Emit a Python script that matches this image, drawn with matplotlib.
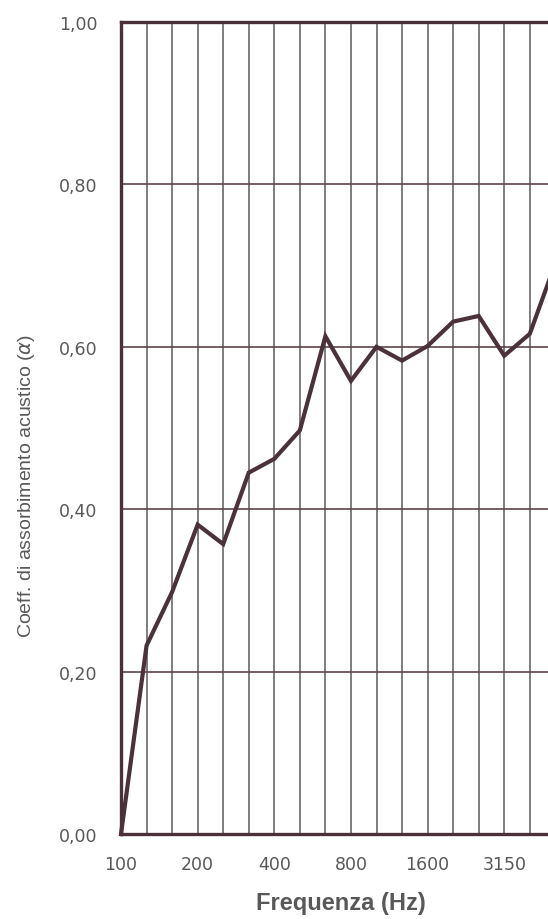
import matplotlib
matplotlib.use("Agg")
import matplotlib.pyplot as plt

# third-octave bands shown on the chart (100 Hz ... 5000 Hz)
bands = [100, 125, 160, 200, 250, 315, 400, 500, 630, 800,
         1000, 1250, 1600, 2000, 2500, 3150, 4000, 5000]
alpha = [0.00, 0.232, 0.298, 0.381, 0.357, 0.445, 0.462, 0.497, 0.613, 0.558,
         0.600, 0.583, 0.601, 0.631, 0.638, 0.589, 0.616, 0.703]
xtick_labels = ["100", "200", "400", "800", "1600", "3150"]
yticks = [0.0, 0.2, 0.4, 0.6, 0.8, 1.0]
ytick_labels = ["0,00", "0,20", "0,40", "0,60", "0,80", "1,00"]

LINE = "#4b3139"
FRAME = "#4a3038"
GRID = "#5e5a5c"
TEXT = "#585858"

plt.rcParams["font.family"] = ["Liberation Sans", "DejaVu Sans"]

fig = plt.figure(figsize=(5.48, 9.2), dpi=100)
# axes run past the right edge of the picture, as in the cropped original
ax = fig.add_axes([121 / 548, 85 / 920, 21 * 25.55 / 548, 812 / 920])

x = list(range(len(bands)))
ax.plot(x, alpha, color=LINE, linewidth=3.0, solid_joinstyle="miter",
        zorder=3, clip_on=False)

ax.set_xlim(0, 21)
ax.set_ylim(0, 1.0)

for i in range(1, 21):
    ax.axvline(i, color=GRID, linewidth=1.1, zorder=1)
for v in yticks[1:-1]:
    ax.axhline(v, color="#5a4448", linewidth=1.2, zorder=1)

ax.set_xticks([bands.index(int(t)) for t in xtick_labels])
ax.set_xticklabels(xtick_labels)
ax.set_yticks(yticks)
ax.set_yticklabels(ytick_labels)
ax.tick_params(length=0, labelcolor=TEXT)
ax.tick_params(axis="y", pad=17)
ax.tick_params(axis="x", pad=15)
# the scanned numbers are loosely spaced, DejaVu's wider digits fit them better
for lab in ax.get_xticklabels() + ax.get_yticklabels():
    lab.set_fontfamily("DejaVu Sans")
    lab.set_fontsize(12.5)

for s in ax.spines.values():
    s.set_color(FRAME)
    s.set_linewidth(2.4)

fig.text(27 / 548, 1 - 486 / 920, "Coeff. di assorbimento acustico ($\\alpha$)",
         rotation=90, ha="center", va="center", fontsize=14, color=TEXT)
fig.text(341 / 548, 1 - 904 / 920, "Frequenza (Hz)", ha="center", va="center",
         fontsize=17, fontweight="bold", color=TEXT)

fig.savefig("out.png", dpi=100, facecolor="white")
